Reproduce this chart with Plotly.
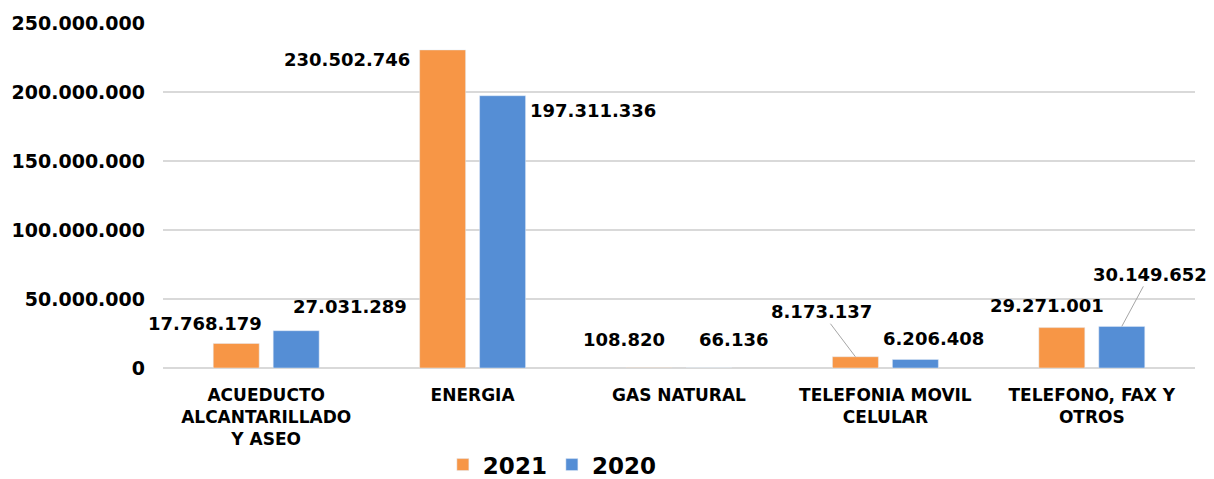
import plotly.graph_objects as go

categories = ["ACUEDUCTO<br>ALCANTARILLADO<br>Y ASEO", "ENERGIA", "GAS NATURAL",
              "TELEFONIA MOVIL<br>CELULAR", "TELEFONO, FAX Y<br>OTROS"]
values_2021 = [17768179, 230502746, 108820, 8173137, 29271001]
values_2020 = [27031289, 197311336, 66136, 6206408, 30149652]
labels_2021 = ["17.768.179", "230.502.746", "108.820", "8.173.137", "29.271.001"]
labels_2020 = ["27.031.289", "197.311.336", "66.136", "6.206.408", "30.149.652"]

ORANGE = "#F79646"
BLUE = "#558ED5"
FONT = "DejaVu Sans"

fig = go.Figure()
fig.add_trace(go.Bar(name="2021", x=categories, y=values_2021, marker_color=ORANGE))
fig.add_trace(go.Bar(name="2020", x=categories, y=values_2020, marker_color=BLUE))

# label placement (pixel offsets from category centre / bar top)
shift21 = [(-61, 20), (-126, -10), (-55, 28), None, (-45, 22)]
shift20 = [(84, 24), (120, -15), (54, 28), (48, 21), None]

ann = []
for i, c in enumerate(categories):
    s = shift21[i]
    if s is None:
        ann.append(dict(x=c, y=values_2021[i], xref="x", yref="y", text=labels_2021[i],
                        showarrow=True, arrowhead=0, arrowwidth=1, arrowcolor="#a6a6a6",
                        xshift=-30, ax=-34, ay=-45, standoff=0))
    else:
        ann.append(dict(x=c, y=values_2021[i], xref="x", yref="y", text=labels_2021[i],
                        showarrow=False, xshift=s[0], yshift=s[1]))
    s = shift20[i]
    if s is None:
        ann.append(dict(x=c, y=values_2020[i], xref="x", yref="y", text=labels_2020[i],
                        showarrow=True, arrowhead=0, arrowwidth=1, arrowcolor="#a6a6a6",
                        xshift=30, ax=28, ay=-52, standoff=0))
    else:
        ann.append(dict(x=c, y=values_2020[i], xref="x", yref="y", text=labels_2020[i],
                        showarrow=False, xshift=s[0], yshift=s[1]))
for a in ann:
    a["font"] = dict(family=FONT, size=18, color="#000000", weight="bold")

fig.update_layout(
    width=1214, height=479,
    margin=dict(l=163, r=19, t=23, b=111, autoexpand=False),
    paper_bgcolor="white", plot_bgcolor="white",
    separators=",.",
    barmode="group", bargap=0.419, bargroupgap=0.233,
    font=dict(family=FONT, color="#000000"),
    annotations=ann,
    showlegend=True,
    legend=dict(orientation="h", xref="container", yref="container", x=0.455, xanchor="center",
                y=0.03, yanchor="middle", font=dict(family=FONT, size=23, color="#000000", weight="bold"),
                itemwidth=30, traceorder="normal"),
)
fig.update_yaxes(range=[0, 250000000], tickvals=[0, 50000000, 100000000, 150000000, 200000000, 250000000],
                 tickformat=",d", showgrid=True, gridcolor="#d9d9d9", gridwidth=1.5, zeroline=True,
                 zerolinecolor="#d9d9d9", zerolinewidth=1.5, showline=False, ticks="",
                 tickfont=dict(family=FONT, size=19, color="#000000", weight="bold"), ticklabelstandoff=17)
fig.update_xaxes(range=[-0.5, 4.5], showline=False, ticks="", ticklabelstandoff=15,
                 tickfont=dict(family=FONT, size=17, color="#000000", weight="bold"))

fig.write_html("out.html", config={"displayModeBar": False},
               post_script="document.body.style.margin='0';document.body.style.overflow='hidden';")
